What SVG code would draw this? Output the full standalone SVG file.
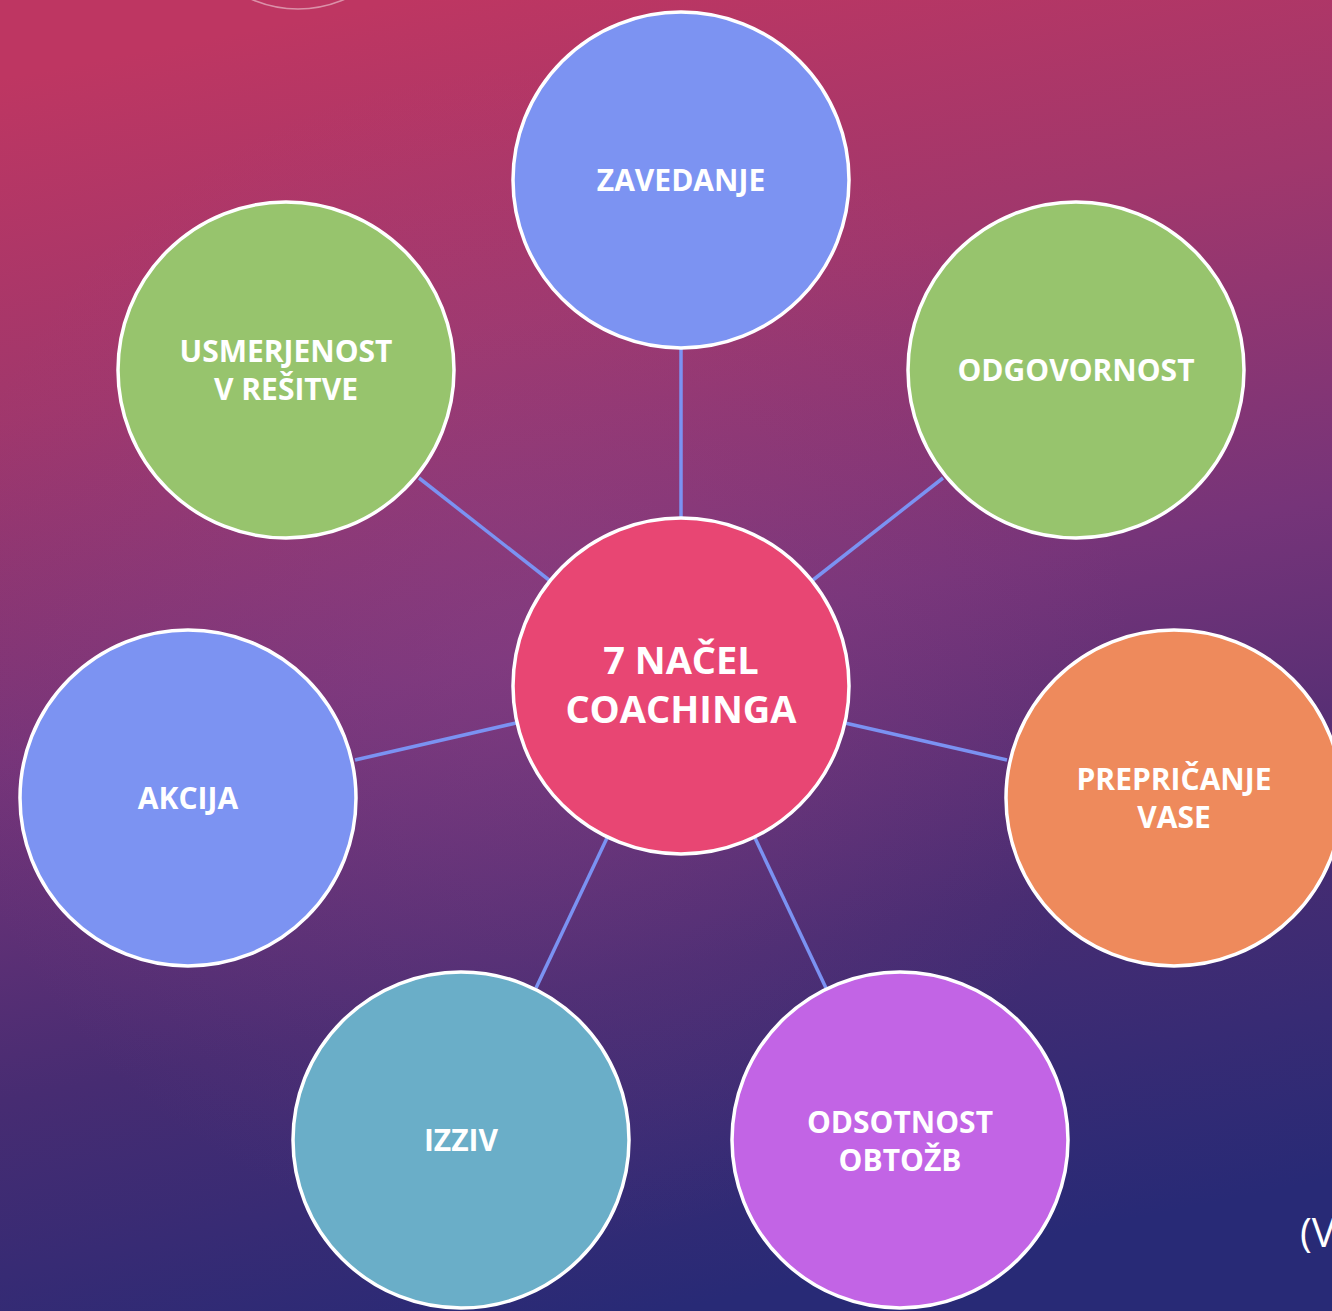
<svg xmlns="http://www.w3.org/2000/svg" width="1332" height="1311" viewBox="0 0 1332 1311">
  <defs>
    <linearGradient id="bg" x1="0.3" y1="0" x2="0.5" y2="1">
      <stop offset="0" stop-color="#BE3662"/>
      <stop offset="0.25" stop-color="#A0376C"/>
      <stop offset="0.5" stop-color="#763479"/>
      <stop offset="0.75" stop-color="#472C72"/>
      <stop offset="1" stop-color="#282A76"/>
    </linearGradient>
    <radialGradient id="glow" cx="0.4" cy="0.5" r="0.45">
      <stop offset="0" stop-color="#9A4A8E" stop-opacity="0.3"/>
      <stop offset="1" stop-color="#9A4A8E" stop-opacity="0"/>
    </radialGradient>
    <style>
      .node { stroke: #FFFFFF; stroke-width: 3.5; }
      .lbl { font-family: "Open Sans", "Liberation Sans", sans-serif; font-weight: 700; font-size: 30px; fill: #FFFFFF; text-anchor: middle; }
      .big { font-size: 38px; }
      .edge { stroke: #7B92F2; stroke-width: 3.5; fill: none; }
      .blue { fill: #7C93F2; }
      .green { fill: #97C46D; }
      .orange { fill: #EE8A5C; }
      .teal { fill: #6AAEC8; }
      .purple { fill: #C264E5; }
      .pink { fill: #E84673; }
    </style>
  </defs>

  <rect x="0" y="0" width="1332" height="1311" fill="url(#bg)"/>
  <rect x="0" y="0" width="1332" height="1311" fill="url(#glow)"/>
  <circle cx="298" cy="-108" r="117" fill="none" stroke="#FFFFFF" stroke-opacity="0.45" stroke-width="1.5"/>

  <g id="connectors">
    <line class="edge" x1="681" y1="349" x2="681" y2="518"/>
    <line class="edge" x1="943" y1="478" x2="813" y2="580"/>
    <line class="edge" x1="419" y1="478" x2="549" y2="580"/>
    <line class="edge" x1="355" y1="760" x2="516" y2="723"/>
    <line class="edge" x1="845" y1="723" x2="1007" y2="760"/>
    <line class="edge" x1="536" y1="988" x2="607" y2="838"/>
    <line class="edge" x1="826" y1="988" x2="755" y2="838"/>
  </g>

  <g id="center">
    <circle class="node pink" cx="681" cy="686" r="168"/>
    <text class="lbl big" x="681" y="674">7 NAČEL</text>
    <text class="lbl big" x="681" y="723">COACHINGA</text>
  </g>

  <g id="zavedanje">
    <circle class="node blue" cx="681" cy="180" r="168"/>
    <text class="lbl" x="681" y="191">ZAVEDANJE</text>
  </g>

  <g id="odgovornost">
    <circle class="node green" cx="1076" cy="370" r="168"/>
    <text class="lbl" x="1076" y="381">ODGOVORNOST</text>
  </g>

  <g id="usmerjenost">
    <circle class="node green" cx="286" cy="370" r="168"/>
    <text class="lbl" x="286" y="362">USMERJENOST</text>
    <text class="lbl" x="286" y="400">V REŠITVE</text>
  </g>

  <g id="akcija">
    <circle class="node blue" cx="188" cy="798" r="168"/>
    <text class="lbl" x="188" y="809">AKCIJA</text>
  </g>

  <g id="prepricanje">
    <circle class="node orange" cx="1174" cy="798" r="168"/>
    <text class="lbl" x="1174" y="790">PREPRIČANJE</text>
    <text class="lbl" x="1174" y="828">VASE</text>
  </g>

  <g id="izziv">
    <circle class="node teal" cx="461" cy="1140" r="168"/>
    <text class="lbl" x="461" y="1151">IZZIV</text>
  </g>

  <g id="odsotnost">
    <circle class="node purple" cx="900" cy="1140" r="168"/>
    <text class="lbl" x="900" y="1133">ODSOTNOST</text>
    <text class="lbl" x="900" y="1171">OBTOŽB</text>
  </g>

  <text x="1300" y="1247" font-family="Open Sans, Liberation Sans, sans-serif" font-size="40" fill="#FFFFFF">(V</text>
</svg>
